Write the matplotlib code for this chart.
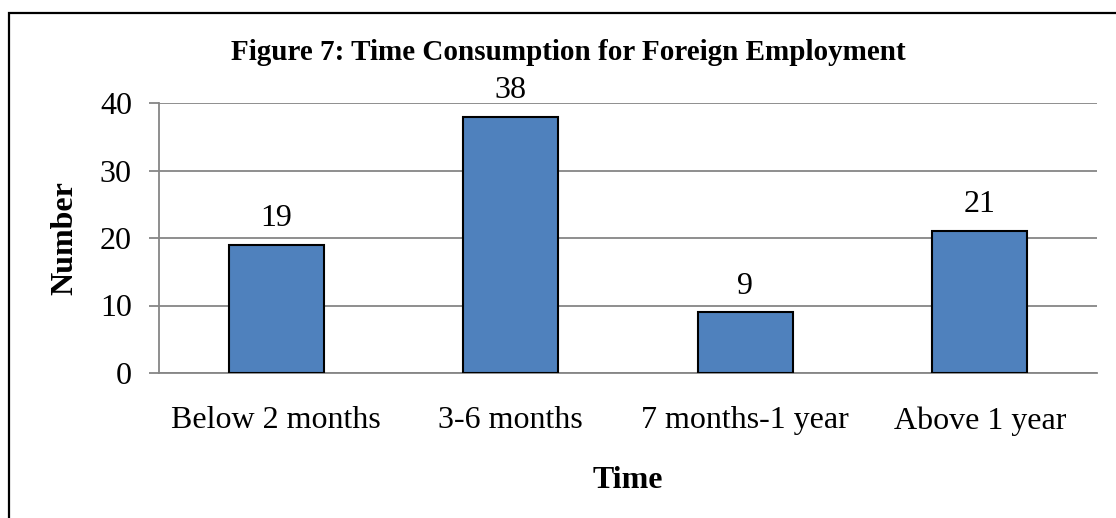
import matplotlib.pyplot as plt
from matplotlib.patches import Rectangle

plt.rcParams['font.family'] = ['Liberation Serif', 'DejaVu Serif']

categories = ['Below 2 months', '3-6 months', '7 months-1 year', 'Above 1 year']
counts = [19, 38, 9, 21]
yticks = [0, 10, 20, 30, 40]

W, H = 1116, 518
fig = plt.figure(figsize=(W / 100, H / 100), dpi=100)
ax = fig.add_axes([159 / W, 1 - 373 / H, (1097 - 159) / W, (373 - 103) / H])

grey = '#868686'
x = range(len(categories))
bars = ax.bar(x, counts, width=0.405, color='#4F81BD', edgecolor='black', linewidth=1.5, zorder=3)

for b, v in zip(bars, counts):
    ax.annotate(str(v), (b.get_x() + b.get_width() / 2, v), xytext=(0, 13.5),
                textcoords='offset points', ha='center', va='baseline', fontsize=23)

ax.set_xlim(-0.5, len(categories) - 0.5)
ax.set_ylim(0, 40)
ax.set_yticks(yticks)
ax.set_xticks(list(x))
ax.set_xticklabels(categories)
ax.grid(axis='y', color=grey, linewidth=1.3, zorder=0)
ax.tick_params(axis='y', length=7.5, width=1.3, color=grey, labelsize=23, pad=12)
ax.tick_params(axis='x', length=0, labelsize=23, pad=24)
for s in ['top', 'right']:
    ax.spines[s].set_visible(False)
for s in ['left', 'bottom']:
    ax.spines[s].set_color(grey)
    ax.spines[s].set_linewidth(1.3)

ax.set_xlabel('Time', fontsize=23, fontweight='bold', labelpad=22)
ax.set_ylabel('Number', fontsize=23, fontweight='bold', labelpad=15)
fig.text(568 / W, 1 - 60 / H, 'Figure 7: Time Consumption for Foreign Employment',
         ha='center', va='baseline', fontsize=21, fontweight='bold')

# outer chart border (only left and top edges fall inside the image)
fig.patches.append(Rectangle((9 / W, -0.1), 1.2, 1 - 13 / H + 0.1, transform=fig.transFigure,
                             fill=False, edgecolor='black', linewidth=1.6))

fig.savefig('out.png', dpi=100)
